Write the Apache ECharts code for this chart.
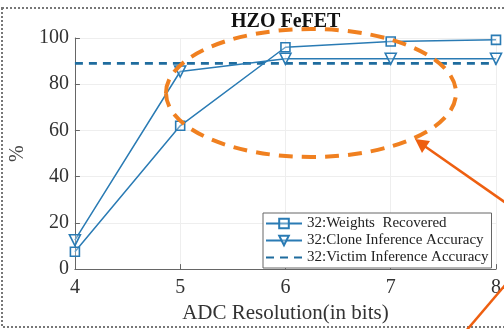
<!DOCTYPE html>
<html>
<head>
<meta charset="utf-8">
<script src="https://cdn.jsdelivr.net/npm/echarts@6/dist/echarts.min.js"></script>
<style>html,body{margin:0;padding:0;background:#fff}#c{width:504px;height:329px}</style>
</head>
<body>
<div id="c"></div>
<script>
var adcBits = [4, 5, 6, 7, 8];
var weightsRecovered = [7.5, 62, 96, 98.5, 99.2];
var cloneAccuracy = [12.5, 85.5, 91, 91, 91];
var victimAccuracy = [89, 89, 89, 89, 89];
var seriesNames = ['32:Weights  Recovered', '32:Clone Inference Accuracy', '32:Victim Inference Accuracy'];
var titleText = 'HZO FeFET';
var xName = 'ADC Resolution(in bits)';
var yName = '%';

function pairs(xs, ys) { return xs.map(function (x, i) { return [x, ys[i]]; }); }

var serif = 'Liberation Serif';
var blue = '#2a7bb4';
var chart = echarts.init(document.getElementById('c'), null, {renderer: 'canvas'});
var tip = [415, 139], tail = [506, 203];
chart.setOption({
  animation: false,
  backgroundColor: '#fff',
  title: {
    text: titleText, left: 226, top: 7,
    textStyle: {fontFamily: serif, fontWeight: 'bold', fontSize: 20, color: '#111'}
  },
  grid: {left: 73, right: 7, top: 38, bottom: 54, containLabel: false},
  legend: {
    orient: 'vertical', left: 263, top: 213,
    data: [
      {name: seriesNames[0]},
      {name: seriesNames[1]},
      {name: seriesNames[2], itemStyle: {opacity: 0}}
    ],
    backgroundColor: '#fff', borderColor: '#666', borderWidth: 1,
    padding: [3, 3, 3, 2], itemGap: 2, itemWidth: 36, itemHeight: 12,
    textStyle: {fontFamily: serif, fontSize: 15, color: '#222'}
  },
  xAxis: {
    type: 'value', min: 4, max: 8, interval: 1,
    name: xName, nameLocation: 'middle', nameGap: 33,
    nameTextStyle: {fontFamily: serif, fontSize: 21, color: '#333'},
    axisLine: {show: true, lineStyle: {color: '#666', width: 1}},
    axisTick: {show: true, inside: true, length: 5, lineStyle: {color: '#666'}},
    axisLabel: {fontFamily: serif, fontSize: 20, color: '#333', margin: 9},
    splitLine: {show: true, lineStyle: {color: '#eeeeee', width: 1}}
  },
  yAxis: {
    type: 'value', min: 0, max: 100, interval: 20,
    name: yName, nameLocation: 'middle', nameGap: 38, nameRotate: 90,
    nameTextStyle: {fontFamily: serif, fontSize: 20, color: '#444'},
    axisLine: {show: true, lineStyle: {color: '#666', width: 1}},
    axisTick: {show: true, inside: true, length: 5, lineStyle: {color: '#666'}},
    axisLabel: {fontFamily: serif, fontSize: 20, color: '#333', margin: 6},
    splitLine: {show: true, lineStyle: {color: '#eeeeee', width: 1}}
  },
  series: [
    {
      name: seriesNames[0], type: 'line', data: pairs(adcBits, weightsRecovered),
      symbol: 'rect', symbolSize: 9, showAllSymbol: true,
      lineStyle: {color: blue, width: 1.5},
      itemStyle: {color: 'rgba(255,255,255,0.3)', borderColor: blue, borderWidth: 1.6},
      z: 3
    },
    {
      name: seriesNames[1], type: 'line', data: pairs(adcBits, cloneAccuracy),
      symbol: 'triangle', symbolRotate: 180, symbolSize: 11,
      lineStyle: {color: blue, width: 1.5},
      itemStyle: {color: 'rgba(255,255,255,0.3)', borderColor: blue, borderWidth: 1.6},
      z: 3
    },
    {
      name: seriesNames[2], type: 'line', data: pairs(adcBits, victimAccuracy),
      symbol: 'none',
      lineStyle: {color: '#1f6c9e', width: 2.6, type: [8, 6]},
      itemStyle: {color: '#1f6c9e'},
      z: 2
    }
  ],
  graphic: [
    {type: 'rect', shape: {x: 2, y: 8, width: 520, height: 319}, silent: true,
     style: {fill: 'none', stroke: '#777', lineWidth: 2, lineDash: [2, 2]}, z: 100},
    {type: 'ellipse', shape: {cx: 311, cy: 93, rx: 145, ry: 64}, silent: true,
     style: {fill: 'none', stroke: '#f08020', lineWidth: 4, lineDash: [14, 9]}, z: 100},
    {type: 'line', shape: {x1: tail[0], y1: tail[1], x2: 423, y2: 145}, silent: true,
     style: {stroke: '#ee5f10', lineWidth: 2.5}, z: 100},
    {type: 'polygon', shape: {points: [tip, [422, 153], [430, 141]]}, silent: true,
     style: {fill: '#ee5f10'}, z: 100},
    {type: 'line', shape: {x1: 466, y1: 331, x2: 506, y2: 284}, silent: true,
     style: {stroke: '#ee5f10', lineWidth: 2.5}, z: 100}
  ]
});
</script>
</body>
</html>
